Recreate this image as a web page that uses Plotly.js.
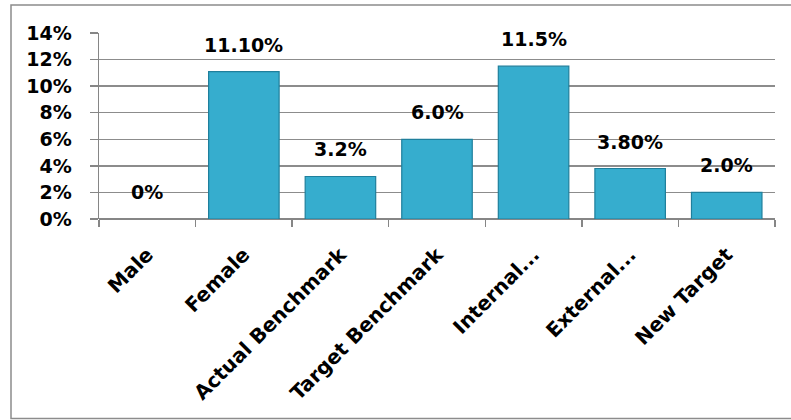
<!DOCTYPE html>
<html>
<head>
<meta charset="utf-8">
<script src="https://cdn.plot.ly/plotly-3.0.1.min.js"></script>
<style>html,body{margin:0;padding:0;background:#fff;}#chart{width:791px;height:420px;}</style>
</head>
<body>
<div id="chart"></div>
<script>
const categories = ["Male", "Female", "Actual Benchmark", "Target Benchmark", "Internal...", "External...", "New Target"];
const values = [0, 11.1, 3.2, 6.0, 11.5, 3.8, 2.0];
const valueLabels = ["0%", "11.10%", "3.2%", "6.0%", "11.5%", "3.80%", "2.0%"];
const yTickVals = [0, 2, 4, 6, 8, 10, 12, 14];
const yTickText = ["0%", "2%", "4%", "6%", "8%", "10%", "12%", "14%"];

const FONT = "'DejaVu Sans', Verdana, sans-serif";

const trace = {
  type: "bar",
  x: categories,
  y: values,
  width: 0.73,
  marker: {
    color: "#36ADCE",
    line: {color: "#1F7F9C", width: values.map(v => v > 0 ? 1.2 : 0)}
  },
  hoverinfo: "skip"
};

const annotations = categories.map((c, i) => ({
  x: c, y: values[i], xref: "x", yref: "y",
  text: "<b>" + valueLabels[i] + "</b>",
  showarrow: false, yanchor: "bottom", yshift: 14,
  font: {family: FONT, size: 19, color: "#000"}
}));

const layout = {
  width: 791, height: 420,
  margin: {l: 99, r: 16, t: 33, b: 201},
  paper_bgcolor: "#fff",
  plot_bgcolor: "#fff",
  showlegend: false,
  bargap: 0.27,
  xaxis: {
    type: "category",
    tickangle: -45,
    ticks: "outside",
    tickson: "boundaries",
    ticklen: 7,
    tickcolor: "#868686",
    tickwidth: 1.5,
    showline: false,
    showgrid: false,
    ticklabelstandoff: 19,
    tickfont: {family: FONT, size: 20, color: "#000", weight: "bold"},
    fixedrange: true
  },
  yaxis: {
    range: [0, 14],
    tickvals: yTickVals,
    ticktext: yTickText,
    ticks: "outside",
    ticklen: 8,
    tickcolor: "#868686",
    tickwidth: 1.5,
    showgrid: true,
    gridcolor: "#8C8C8C",
    gridwidth: 1.5,
    showline: true,
    linecolor: "#868686",
    linewidth: 1.5,
    zeroline: true,
    zerolinecolor: "#868686",
    zerolinewidth: 1.5,
    ticklabelstandoff: 14,
    tickfont: {family: FONT, size: 19, color: "#000", weight: "bold"},
    fixedrange: true
  },
  annotations: annotations,
  shapes: [{
    type: "rect", xref: "paper", yref: "paper",
    x0: (11 - 99) / 676, x1: 1.04,
    y0: (219 - 418.5) / 186, y1: (219 - 5) / 186,
    line: {color: "#8C8C8C", width: 1.5},
    fillcolor: "rgba(0,0,0,0)",
    layer: "below"
  }]
};

Plotly.newPlot("chart", [trace], layout, {displayModeBar: false, staticPlot: true});
</script>
</body>
</html>
